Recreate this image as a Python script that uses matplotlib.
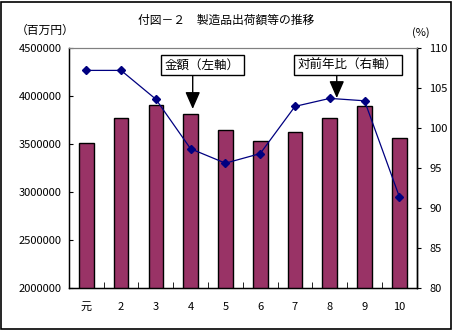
import numpy as np
import matplotlib.pyplot as plt
from matplotlib.patches import Rectangle

plt.rcParams['font.family'] = ['Noto Sans CJK JP', 'DejaVu Sans']

# 年次ごとの出荷額（百万円）と対前年比（%）
years = ['元', '2', '3', '4', '5', '6', '7', '8', '9', '10']
amount = [3510000, 3771000, 3906000, 3812000, 3646000, 3528000, 3622000, 3768000, 3896000, 3559000]
ratio = [107.2, 107.2, 103.6, 97.4, 95.6, 96.8, 102.7, 103.7, 103.4, 91.4]

fig = plt.figure(figsize=(4.53, 3.31), dpi=100)
ax = fig.add_axes([0.152, 0.130, 0.768, 0.725])
x = np.arange(len(years))

ax.bar(x, amount, width=0.42, color='#993366', edgecolor='black', linewidth=1, zorder=2)
ax.set_xlim(-0.5, len(years) - 0.5)
ax.set_ylim(2000000, 4500000)
ax.set_yticks(np.arange(2000000, 4500001, 500000))
ax.set_yticklabels([str(v) for v in range(2000000, 4500001, 500000)], fontsize=8)
ax.set_xticks(x)
ax.set_xticklabels(years, fontsize=8)
ax.set_xticks(np.arange(0.5, len(years) - 0.5, 1), minor=True)
ax.tick_params(axis='x', which='major', length=0, pad=10)
ax.tick_params(axis='x', which='minor', direction='in', length=4)
ax.tick_params(axis='y', direction='in', length=3, pad=5)
ax.spines['top'].set_color('#808080')
for s in ['left', 'bottom', 'right']:
    ax.spines[s].set_linewidth(1)

ax2 = ax.twinx()
ax2.plot(x, ratio, color='#000080', linewidth=0.9, marker='D', markersize=4,
         markerfacecolor='#000080', markeredgecolor='#000080', zorder=3)
ax2.set_ylim(80, 110)
ax2.set_yticks(range(80, 111, 5))
ax2.set_yticklabels([str(v) for v in range(80, 111, 5)], fontsize=8)
ax2.tick_params(axis='y', direction='out', length=3, pad=6)
ax2.spines['top'].set_color('#808080')
ax2.spines['right'].set_linewidth(1)

fig.text(0.5, 0.94, '付図－２　製造品出荷額等の推移', ha='center', va='center', fontsize=8.5)
fig.text(0.1, 0.908, '（百万円）', ha='center', va='center', fontsize=8.5)
fig.text(0.928, 0.902, '(%)', ha='center', va='center', fontsize=8)

# 説明ラベルと下向き矢印
box = dict(boxstyle='square,pad=0.3', facecolor='white', edgecolor='black', lw=1)
arrow = dict(arrowstyle='-|>,head_length=0.8,head_width=0.35', color='black', lw=1,
             mutation_scale=13, shrinkA=0, shrinkB=0)
ax.text(3.335, 4323000, '金額（左軸）', ha='center', va='center', fontsize=9, bbox=box, zorder=6)
ax.annotate('', xy=(3.06, 3865000), xytext=(3.06, 4235000), arrowprops=arrow, zorder=5)
ax.text(7.52, 4323000, '対前年比（右軸）', ha='center', va='center', fontsize=9, bbox=box, zorder=6)
ax.annotate('', xy=(7.2, 3979000), xytext=(7.2, 4235000), arrowprops=arrow, zorder=5)

fig.patches.append(Rectangle((0.003, 0.005), 0.993, 0.99, transform=fig.transFigure,
                             fill=False, edgecolor='black', linewidth=1.2))

fig.savefig('out.png', dpi=100)
